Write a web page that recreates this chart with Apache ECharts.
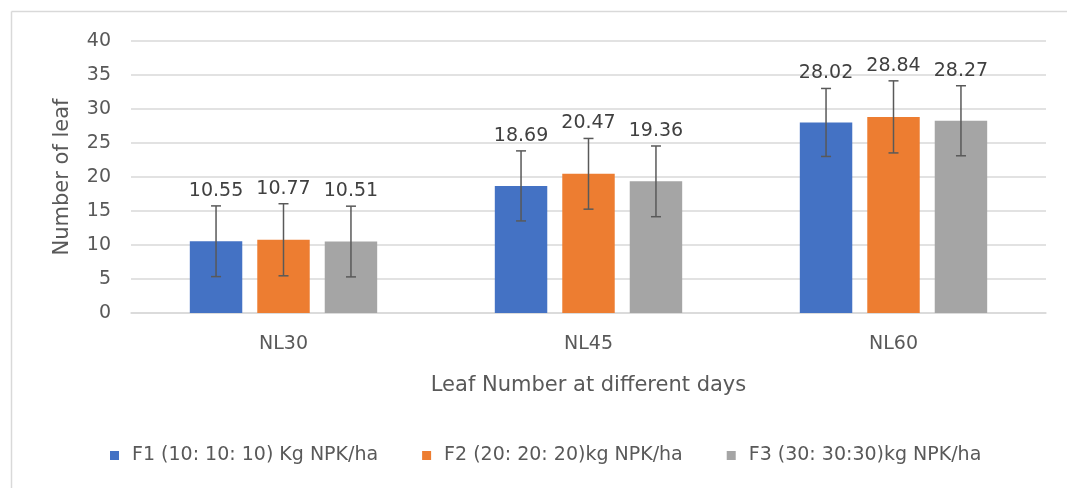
<!DOCTYPE html>
<html>
<head>
<meta charset="utf-8">
<script src="https://cdn.jsdelivr.net/npm/echarts@6/dist/echarts.min.js"></script>
<style>
  html, body { margin: 0; padding: 0; background: #fff; }
  #chart { width: 1067px; height: 488px; }
</style>
</head>
<body>
<div id="chart"></div>
<script>
// categories and values
const categories = ["NL30", "NL45", "NL60"];
const seriesNames = [
  "F1 (10: 10: 10) Kg NPK/ha",
  "F2 (20: 20: 20)kg NPK/ha",
  "F3 (30: 30:30)kg NPK/ha",
];
const f1Values = [10.55, 18.69, 28.02];
const f2Values = [10.77, 20.47, 28.84];
const f3Values = [10.51, 19.36, 28.27];
// error bar half-widths (estimated)
const f1Errors = [5.2, 5.15, 5.0];
const f2Errors = [5.3, 5.2, 5.3];
const f3Errors = [5.2, 5.2, 5.15];
const yTicks = { min: 0, max: 40, interval: 5 };

const colors = ["#4472C4", "#ED7D31", "#A5A5A5"];
const textColor = "#595959";
const font = "DejaVu Sans";
const BAR_RATIO = 0.172; // bar width / category band
const GAP_RATIO = 0.286; // gap / bar width

const chart = echarts.init(document.getElementById("chart"));

const values = [f1Values, f2Values, f3Values];
const errors = [f1Errors, f2Errors, f3Errors];

// error bars + value labels, drawn on top of the bars
function errorSeries(idx) {
  const data = categories.map((c, i) => [i, values[idx][i], errors[idx][i]]);
  return {
    type: "custom",
    name: seriesNames[idx] + " err",
    z: 5,
    silent: true,
    data,
    renderItem: (params, api) => {
      const ci = api.value(0);
      const v = api.value(1);
      const e = api.value(2);
      const band = api.size([1, 0])[0];
      const bw = band * BAR_RATIO;
      const step = bw * (1 + GAP_RATIO);
      const cx = api.coord([ci, v])[0] + (idx - 1) * step;
      const yTop = api.coord([ci, v + e])[1];
      const yBot = api.coord([ci, v - e])[1];
      const half = 5;
      const lineStyle = { stroke: "#595959", lineWidth: 1.5 };
      return {
        type: "group",
        children: [
          { type: "line", shape: { x1: cx, y1: yTop, x2: cx, y2: yBot }, style: lineStyle },
          { type: "line", shape: { x1: cx - half, y1: yTop, x2: cx + half, y2: yTop }, style: lineStyle },
          { type: "line", shape: { x1: cx - half, y1: yBot, x2: cx + half, y2: yBot }, style: lineStyle },
          {
            type: "text",
            style: {
              x: cx,
              y: yTop - 15,
              text: v.toFixed(2),
              fill: "#404040",
              font: "19px " + font,
              align: "center",
              verticalAlign: "middle",
            },
          },
        ],
      };
    },
  };
}

const barSeries = seriesNames.map((name, idx) => ({
  name,
  type: "bar",
  data: values[idx],
  barWidth: BAR_RATIO * 100 + "%",
  barGap: GAP_RATIO * 100 + "%",
  itemStyle: { color: colors[idx] },
}));

// chart area frame: only the top and left edges are visible in the picture
const frameStyle = { stroke: "#d9d9d9", lineWidth: 1.5 };

const option = {
  animation: false,
  textStyle: { fontFamily: font },
  graphic: [
    { type: "line", shape: { x1: 11.5, y1: 11.5, x2: 1067, y2: 11.5 }, style: frameStyle, silent: true },
    { type: "line", shape: { x1: 11.5, y1: 11.5, x2: 11.5, y2: 488 }, style: frameStyle, silent: true },
  ],
  grid: { left: 131, right: 21, top: 41, bottom: 175 },
  legend: {
    data: seriesNames,
    left: 105,
    top: 441,
    icon: "rect",
    itemWidth: 9,
    itemHeight: 9,
    itemGap: 44,
    textStyle: { color: textColor, fontSize: 19, fontFamily: font, padding: [0, 0, 0, 8] },
  },
  xAxis: {
    type: "category",
    data: categories,
    name: "Leaf Number at different days",
    nameLocation: "middle",
    nameGap: 62,
    nameTextStyle: { color: textColor, fontSize: 21, fontFamily: font },
    axisTick: { show: false },
    axisLine: { lineStyle: { color: "#d9d9d9", width: 1.5 } },
    axisLabel: { color: textColor, fontSize: 19, margin: 22, fontFamily: font },
  },
  yAxis: {
    type: "value",
    min: yTicks.min,
    max: yTicks.max,
    interval: yTicks.interval,
    name: "Number of leaf",
    nameLocation: "middle",
    nameRotate: 90,
    nameGap: 58,
    nameTextStyle: { color: textColor, fontSize: 21, fontFamily: font },
    axisLine: { show: false },
    axisTick: { show: false },
    axisLabel: { color: textColor, fontSize: 19, margin: 20, fontFamily: font },
    splitLine: { lineStyle: { color: "#d9d9d9", width: 1.5 } },
  },
  series: [...barSeries, ...seriesNames.map((_, i) => errorSeries(i))],
};

chart.setOption(option);
</script>
</body>
</html>
